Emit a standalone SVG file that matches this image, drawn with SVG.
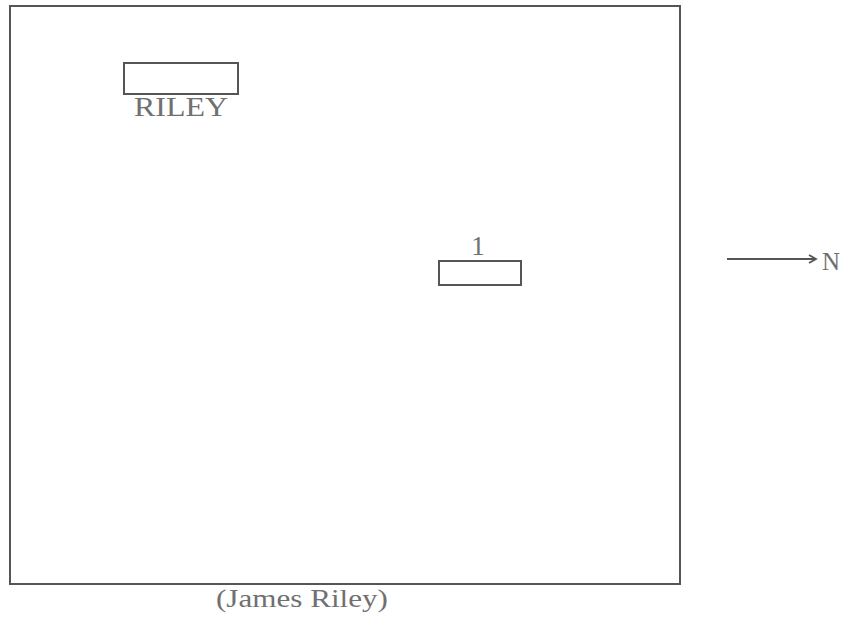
<svg xmlns="http://www.w3.org/2000/svg" width="845" height="620" viewBox="0 0 845 620">
<defs>
<style>
.box{fill:none;stroke:#555;stroke-width:2}
.t{font-family:"Liberation Serif","DejaVu Serif",serif;fill:#707070}
</style>
<marker id="ah" markerWidth="10" markerHeight="10" refX="8" refY="5" orient="auto" markerUnits="userSpaceOnUse">
<path d="M1,1 L8,5 L1,9" fill="none" stroke="#555" stroke-width="1.8"/>
</marker>
</defs>
<rect width="845" height="620" fill="#fff"/>
<g id="boundary">
<rect class="box" x="10" y="6" width="670" height="578" stroke="#666"/>
</g>
<g id="riley">
<rect class="box" x="124" y="63" width="114" height="31"/>
<text class="t" x="134" y="116" font-size="27" textLength="94" lengthAdjust="spacingAndGlyphs">RILEY</text>
</g>
<g id="site1">
<text class="t" x="478" y="255" font-size="27" text-anchor="middle">1</text>
<rect class="box" x="439" y="261" width="82" height="24"/>
</g>
<g id="connectors">
<line x1="727" y1="259" x2="816" y2="259" stroke="#555" stroke-width="1.8" marker-end="url(#ah)"/>
</g>
<g id="north">
<text class="t" x="822" y="270" font-size="25">N</text>
</g>
<g id="caption">
<text class="t" x="216" y="607" font-size="25" textLength="172" lengthAdjust="spacingAndGlyphs">(James Riley)</text>
</g>
</svg>
